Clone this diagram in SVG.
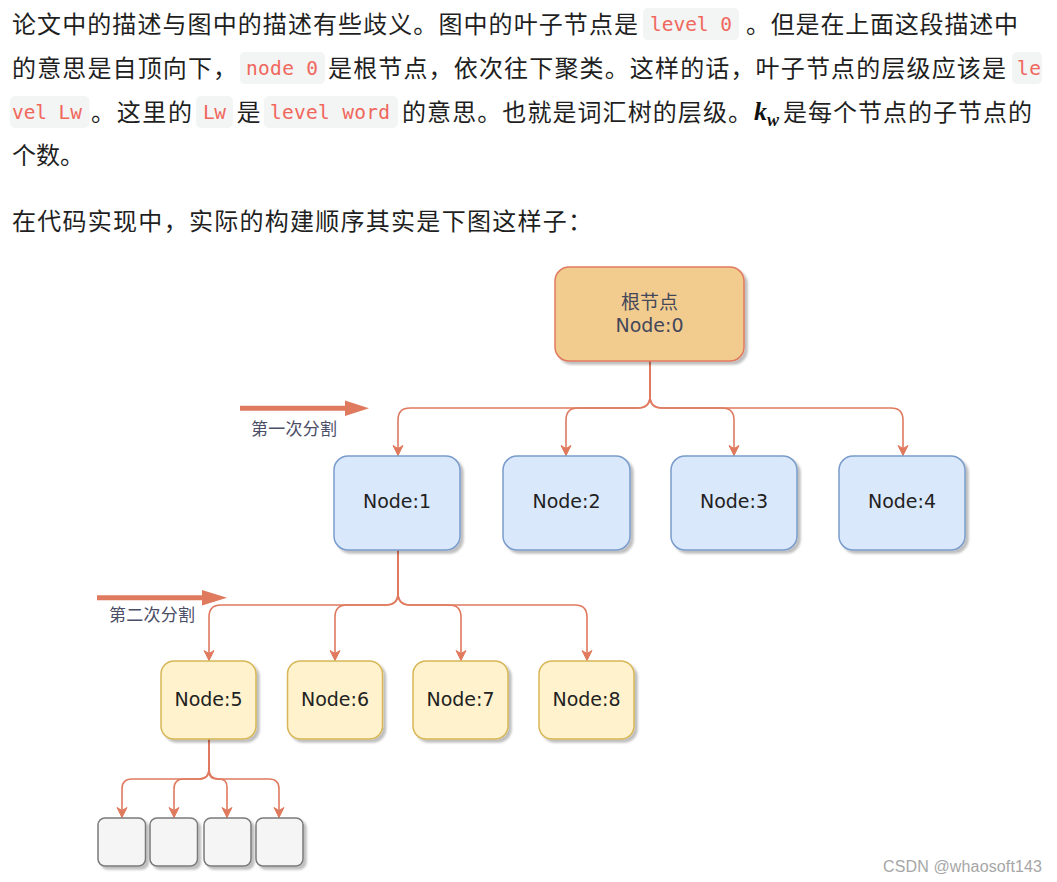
<svg xmlns="http://www.w3.org/2000/svg" width="1057" height="882" viewBox="0 0 1057 882">
<style>
.p{font-family:"Noto Sans CJK SC","Noto Sans CJK JP",sans-serif;font-size:24px;fill:#1f1f1f}
.chip{fill:#f3f4f4}
.code{font-family:"DejaVu Sans Mono","Liberation Mono",monospace;font-size:19.5px;fill:#f0675c}
.lbl{font-family:"DejaVu Sans","Noto Sans CJK SC",sans-serif;font-size:19px;fill:#222;text-anchor:middle}
.root-t{fill:#44475a}
.split{font-family:"Noto Sans CJK SC",sans-serif;font-size:17px;fill:#4b4e66}
.edge{fill:none;stroke:#E07A5F;stroke-width:1.6;marker-end:url(#arr)}
.big{fill:#E07A5F}
.root{fill:#F2CC8F;stroke:#E07A5F;stroke-width:1.5}
.blue{fill:#dae8fc;stroke:#7a9ccb;stroke-width:1.5}
.yel{fill:#fff2cc;stroke:#d6b656;stroke-width:1.5}
.gray{fill:#f5f5f5;stroke:#7a7a7a;stroke-width:1.5}
</style>
<defs>
<filter id="sh" x="-20%" y="-20%" width="150%" height="150%">
<feDropShadow dx="3" dy="3" stdDeviation="1.2" flood-color="#000" flood-opacity="0.25"/>
</filter>
<marker id="arr" viewBox="0 0 12 12" refX="11" refY="6" markerWidth="12" markerHeight="12" markerUnits="userSpaceOnUse" orient="auto">
<path d="M1,1 L11,6 L1,11 L4,6 z" fill="#E07A5F" stroke="#E07A5F" stroke-width="1"/>
</marker>
</defs>
<rect width="1057" height="882" fill="#ffffff"/>

<g id="paragraph">
<text class="p" x="12" y="32.7" textLength="626" lengthAdjust="spacing">论文中的描述与图中的描述有些歧义。图中的叶子节点是</text>
<rect class="chip" x="643" y="8" width="96" height="32" rx="5"/>
<text class="code" x="650" y="31" textLength="82" lengthAdjust="spacing">level 0</text>
<text class="p" x="746" y="32.7" textLength="272" lengthAdjust="spacing">。但是在上面这段描述中</text>

<text class="p" x="12" y="76.7" textLength="225" lengthAdjust="spacing">的意思是自顶向下，</text>
<rect class="chip" x="240" y="52" width="85" height="32" rx="5"/>
<text class="code" x="246" y="75" textLength="72" lengthAdjust="spacing">node 0</text>
<text class="p" x="328" y="76.7" textLength="678" lengthAdjust="spacing">是根节点，依次往下聚类。这样的话，叶子节点的层级应该是</text>
<rect class="chip" x="1012" y="52" width="30" height="32" rx="5"/>
<text class="code" x="1017" y="75" textLength="24" lengthAdjust="spacing">le</text>

<rect class="chip" x="10" y="96" width="79.5" height="32" rx="5"/>
<text class="code" x="12" y="119" textLength="70" lengthAdjust="spacing">vel Lw</text>
<text class="p" x="91" y="120.6" textLength="101" lengthAdjust="spacing">。这里的</text>
<rect class="chip" x="196" y="96" width="37" height="32" rx="5"/>
<text class="code" x="203" y="119" textLength="23" lengthAdjust="spacing">Lw</text>
<text class="p" x="236.5" y="120.6">是</text>
<rect class="chip" x="264" y="96" width="134" height="32" rx="5"/>
<text class="code" x="270" y="119" textLength="120" lengthAdjust="spacing">level word</text>
<text class="p" x="402" y="120.6" textLength="350" lengthAdjust="spacing">的意思。也就是词汇树的层级。</text>
<text x="754" y="120" font-family="Liberation Serif,serif" font-style="italic" font-weight="bold" font-size="26" fill="#111">k</text>
<text x="767" y="125.5" font-family="Liberation Serif,serif" font-style="italic" font-weight="bold" font-size="18" fill="#111">w</text>
<text class="p" x="783" y="120.6" textLength="249" lengthAdjust="spacing">是每个节点的子节点的</text>

<text class="p" x="12" y="164">个数。</text>

<text class="p" x="12" y="229.7" textLength="580" lengthAdjust="spacing">在代码实现中，实际的构建顺序其实是下图这样子：</text>
</g>

<g id="connectors">
<path class="edge" d="M650,361 V396 Q650,408 638,408 H410 Q398,408 398,420 V455.5"/>
<path class="edge" d="M650,361 V396 Q650,408 638,408 H578 Q566,408 566,420 V455.5"/>
<path class="edge" d="M650,361 V396 Q650,408 662,408 H722 Q734,408 734,420 V455.5"/>
<path class="edge" d="M650,361 V396 Q650,408 662,408 H891 Q903,408 903,420 V455.5"/>

<path class="edge" d="M398,550 V593 Q398,605 386,605 H221 Q209,605 209,617 V660.5"/>
<path class="edge" d="M398,550 V593 Q398,605 386,605 H347 Q335,605 335,617 V660.5"/>
<path class="edge" d="M398,550 V593 Q398,605 410,605 H449 Q461,605 461,617 V660.5"/>
<path class="edge" d="M398,550 V593 Q398,605 410,605 H575 Q587,605 587,617 V660.5"/>

<path class="edge" d="M209,739 V769 Q209,779 199,779 H132 Q122,779 122,789 V817.5"/>
<path class="edge" d="M209,739 V769 Q209,779 199,779 H184 Q174,779 174,789 V817.5"/>
<path class="edge" d="M209,739 V771 Q209,779 217,779 H219 Q227,779 227,787 V817.5"/>
<path class="edge" d="M209,739 V769 Q209,779 219,779 H269 Q279,779 279,789 V817.5"/>

<path class="big" d="M240,405.7 H345 V400.5 L369,408.3 L345,416 V410.8 H240 z"/>
<path class="big" d="M97,595.2 H202 V590 L227,597.7 L202,605.4 V600.2 H97 z"/>
</g>

<g id="split1"><text class="split" x="251" y="434.5" textLength="86" lengthAdjust="spacing">第一次分割</text></g>
<g id="split2"><text class="split" x="109" y="620.5" textLength="86" lengthAdjust="spacing">第二次分割</text></g>

<g id="node0">
<rect class="root" x="555" y="267" width="189" height="94" rx="14" filter="url(#sh)"/>
<text class="lbl root-t" x="649.5" y="308.5">根节点</text>
<text class="lbl root-t" x="649.5" y="331.5">Node:0</text>
</g>

<g id="node1"><rect class="blue" x="334" y="456" width="126" height="94" rx="14" filter="url(#sh)"/><text class="lbl" x="397" y="508">Node:1</text></g>
<g id="node2"><rect class="blue" x="503" y="456" width="127" height="94" rx="14" filter="url(#sh)"/><text class="lbl" x="566.5" y="508">Node:2</text></g>
<g id="node3"><rect class="blue" x="671" y="456" width="126" height="94" rx="14" filter="url(#sh)"/><text class="lbl" x="734" y="508">Node:3</text></g>
<g id="node4"><rect class="blue" x="839" y="456" width="126" height="94" rx="14" filter="url(#sh)"/><text class="lbl" x="902" y="508">Node:4</text></g>

<g id="node5"><rect class="yel" x="161" y="661" width="95" height="78" rx="13" filter="url(#sh)"/><text class="lbl" x="208.5" y="706">Node:5</text></g>
<g id="node6"><rect class="yel" x="287.5" y="661" width="95" height="78" rx="13" filter="url(#sh)"/><text class="lbl" x="335" y="706">Node:6</text></g>
<g id="node7"><rect class="yel" x="413" y="661" width="95" height="78" rx="13" filter="url(#sh)"/><text class="lbl" x="460.5" y="706">Node:7</text></g>
<g id="node8"><rect class="yel" x="539" y="661" width="95" height="78" rx="13" filter="url(#sh)"/><text class="lbl" x="586.5" y="706">Node:8</text></g>

<g id="leaf1"><rect class="gray" x="98" y="818" width="47.5" height="48" rx="7" filter="url(#sh)"/></g>
<g id="leaf2"><rect class="gray" x="150" y="818" width="47.5" height="48" rx="7" filter="url(#sh)"/></g>
<g id="leaf3"><rect class="gray" x="204" y="818" width="47" height="48" rx="7" filter="url(#sh)"/></g>
<g id="leaf4"><rect class="gray" x="256" y="818" width="47" height="48" rx="7" filter="url(#sh)"/></g>

<g id="watermark">
<text x="883" y="872" font-family="Liberation Sans,Arial,sans-serif" font-size="16" fill="#a6a6a6" textLength="159" lengthAdjust="spacing">CSDN @whaosoft143</text>
</g>
</svg>
